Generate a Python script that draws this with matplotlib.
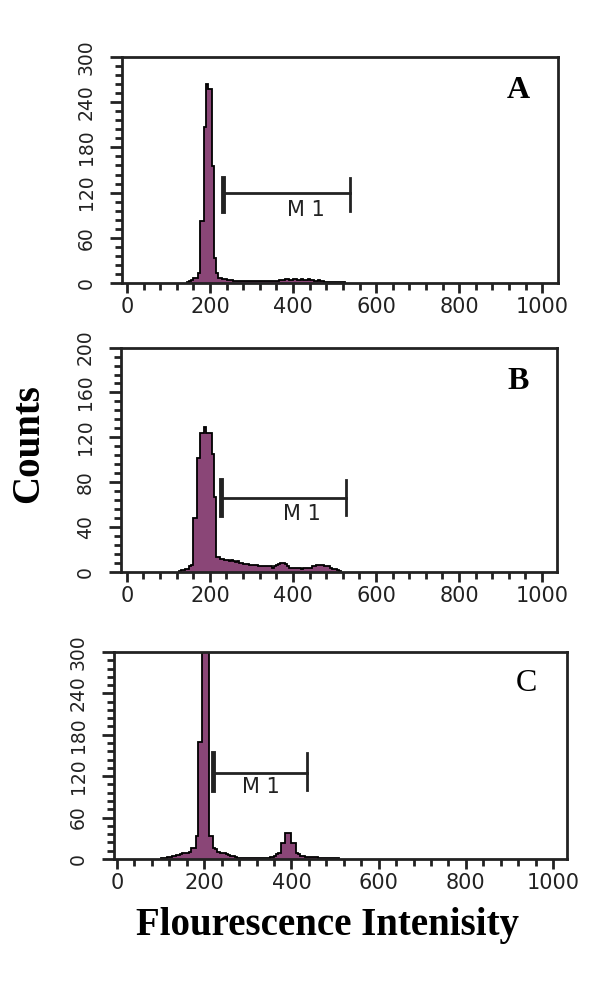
import numpy as np
import matplotlib
matplotlib.use('Agg')
import matplotlib.pyplot as plt
from matplotlib.ticker import MultipleLocator

# histogram data (bin width 5, counts start at the given channel)
bin_width = 5

a_start = 145
a_counts = [2, 3, 4, 7, 7, 13, 82, 82, 207, 264, 258, 258, 155, 33, 13, 7, 6, 5, 5, 4,
            4, 4, 3, 3, 3, 3, 3, 3, 3, 3, 3, 3, 3, 3, 3, 3, 3, 3, 3, 3,
            3, 3, 3, 3, 4, 4, 4, 5, 5, 4, 4, 5, 5, 4, 4, 5, 4, 4, 5, 4,
            4, 3, 3, 4, 3, 3, 2, 2, 2, 2, 2, 2, 2, 1, 1, 1]

b_start = 125
b_counts = [1, 2, 2, 3, 3, 5, 6, 48, 48, 102, 124, 124, 129, 124, 124, 124, 105, 67, 13, 13,
            12, 12, 11, 11, 10, 11, 10, 9, 10, 8, 8, 7, 7, 7, 6, 6, 6, 6, 5, 5,
            5, 5, 5, 5, 5, 4, 5, 6, 7, 8, 8, 7, 5, 4, 4, 4, 4, 4, 4, 3,
            4, 4, 4, 4, 5, 5, 6, 6, 6, 6, 5, 5, 5, 4, 3, 3, 2, 1]

c_start = 100
c_counts = [1, 2, 2, 3, 3, 4, 5, 6, 6, 7, 8, 8, 9, 10, 16, 16, 33, 170, 170, 360,
            360, 360, 33, 33, 16, 14, 10, 9, 9, 8, 7, 6, 5, 4, 3, 2, 2, 2, 2, 2,
            2, 2, 2, 2, 2, 2, 2, 2, 2, 2, 3, 3, 4, 7, 9, 23, 23, 38, 38, 38,
            23, 23, 9, 7, 5, 4, 3, 3, 3, 3, 3, 3, 2, 2, 2, 2, 2, 2, 2, 1, 1, 1]

# M1 gate limits
a_gate = [232, 537]
b_gate = [226, 527]
c_gate = [221, 435]

panel_labels = ['A', 'B', 'C']
y_max = [300, 200, 300]
y_major = [60, 40, 60]

fig = plt.figure(figsize=(6, 9.81), dpi=100)

# axes boxes in figure fractions
ax_a = fig.add_axes([0.2033, 0.7115, 0.7267, 0.2304])
ax_b = fig.add_axes([0.2017, 0.4169, 0.7267, 0.2288])
ax_c = fig.add_axes([0.19, 0.1244, 0.755, 0.211])
axes = [ax_a, ax_b, ax_c]
xlims = [(-12, 1038), (-14, 1036), (-7, 1032)]

starts = [a_start, b_start, c_start]
counts = [a_counts, b_counts, c_counts]
gates = [a_gate, b_gate, c_gate]
gate_y = [(119, 95, 140, 97), (66, 51, 82, 52), (125, 100, 154, 105)]

fill_col = '#8a4677'

for i, ax in enumerate(axes):
    cts = np.array(counts[i])
    edges = starts[i] + bin_width * np.arange(len(cts) + 1)
    ax.stairs(cts, edges, fill=True, color=fill_col, baseline=0)
    ax.stairs(cts, edges, color='black', linewidth=1.3, baseline=0)

    ax.set_xlim(*xlims[i])
    ax.set_ylim(0, y_max[i])

    # M1 gate marker
    yl, ylo, yhi, yt = gate_y[i]
    g0, g1 = gates[i]
    ax.plot([g0, g1], [yl, yl], color='#222222', linewidth=2)
    ax.plot([g0, g0], [ylo, yhi], color='#222222', linewidth=3.5)
    ax.plot([g1, g1], [ylo, yhi], color='#222222', linewidth=2)
    ax.text(g1 - 105, yt, 'M 1', ha='center', va='center',
            fontsize=15, color='#222222', family='DejaVu Sans')

    # panel letter
    ax.text(0.91, 0.85, panel_labels[i], transform=ax.transAxes,
            ha='center', va='center', fontsize=23,
            family='Liberation Serif',
            fontweight='normal' if i == 2 else 'bold')

    ax.xaxis.set_major_locator(MultipleLocator(200))
    ax.xaxis.set_minor_locator(MultipleLocator(40))
    ax.yaxis.set_major_locator(MultipleLocator(y_major[i]))
    ax.yaxis.set_minor_locator(MultipleLocator(y_major[i] / 5))

    ax.tick_params(axis='both', which='major', direction='out', width=2,
                   colors='#222222')
    ax.tick_params(axis='x', which='major', length=7, pad=3, labelsize=15)
    ax.tick_params(axis='y', which='major', length=9, pad=10, labelsize=13.5)
    ax.tick_params(axis='both', which='minor', direction='out', width=2,
                   length=5, colors='#222222')
    for lab in ax.get_yticklabels():
        lab.set_rotation(90)
        lab.set_va('center')
    for s in ax.spines.values():
        s.set_linewidth(2)
        s.set_color('#222222')

fig.text(0.047, 0.548, 'Counts', rotation=90, ha='center', va='center',
         fontsize=28, fontweight='bold', family='Liberation Serif')
fig.text(0.545, 0.057, 'Flourescence Intenisity', ha='center', va='center',
         fontsize=28, fontweight='bold', family='Liberation Serif')

fig.savefig('out.png', dpi=100)
